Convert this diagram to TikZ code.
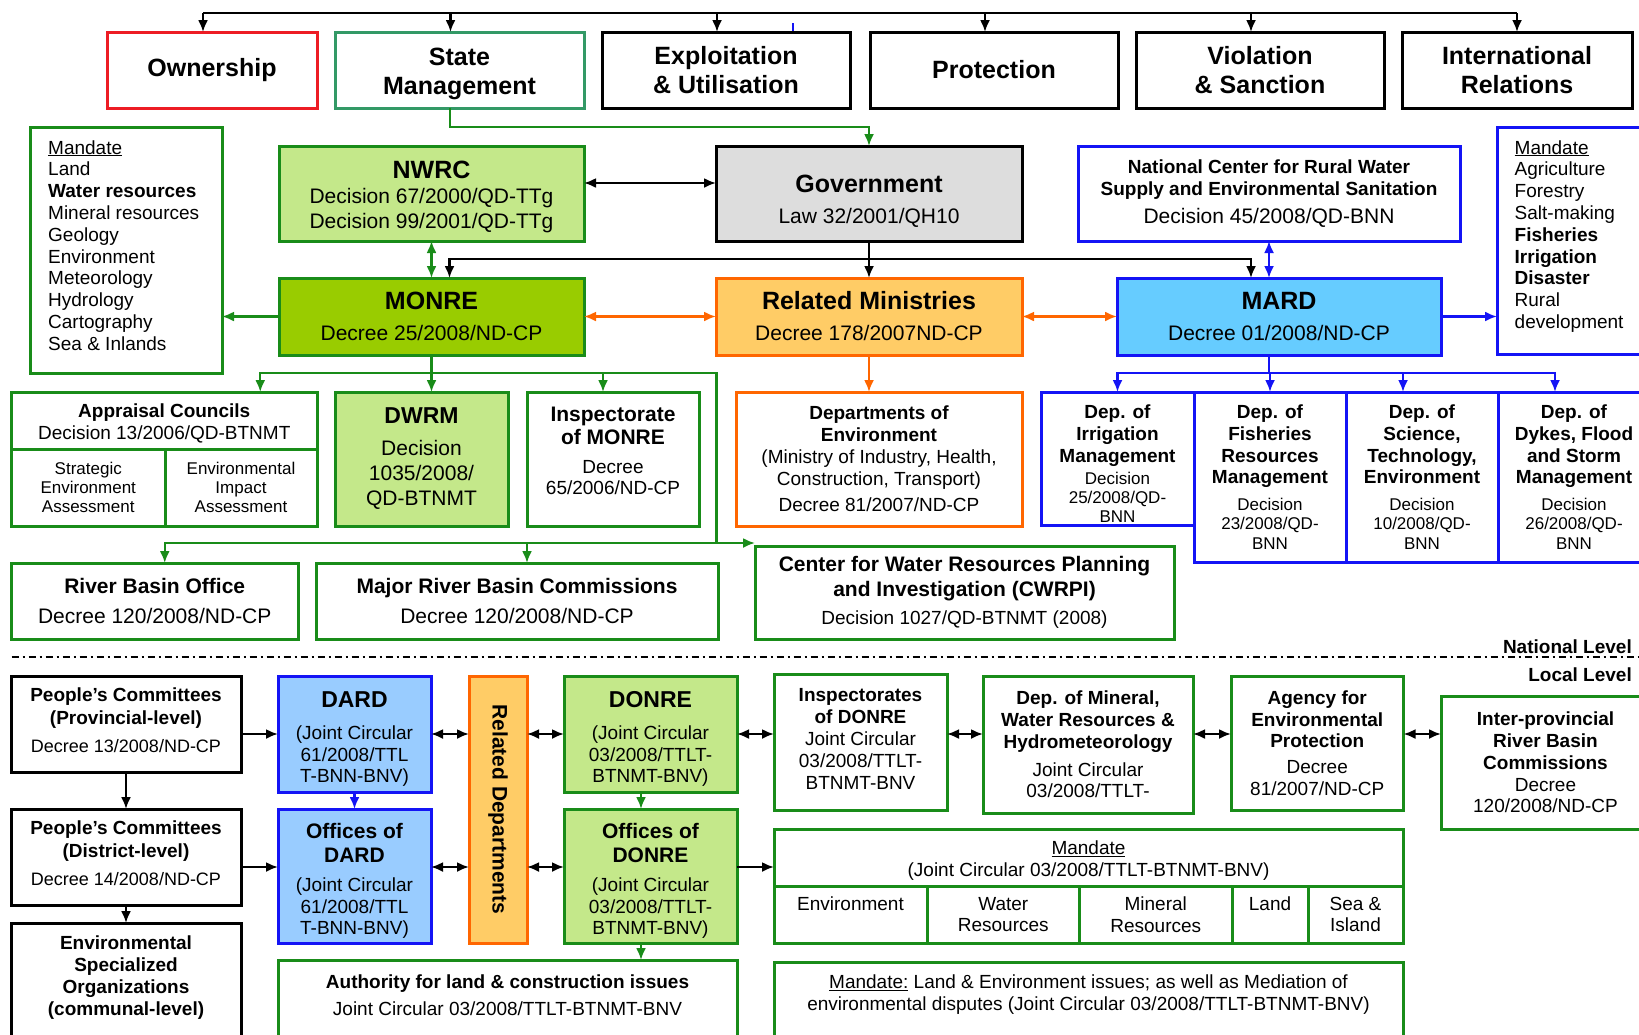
\documentclass[tikz,border=0pt]{standalone}
\usepackage{fontspec}
\setmainfont{Liberation Sans}
\usetikzlibrary{
  arrows.meta,
  positioning,
}
\definecolor{ownred}{RGB}{237, 28, 36}
\definecolor{smgreen}{RGB}{51, 153, 102}
\definecolor{mgreen}{RGB}{25, 140, 25}
\definecolor{lgreen}{RGB}{196, 232, 138}
\definecolor{monregreen}{RGB}{153, 204, 0}
\definecolor{morange}{RGB}{255, 102, 0}
\definecolor{lorange}{RGB}{255, 204, 102}
\definecolor{mblue}{RGB}{20, 20, 245}
\definecolor{mardblue}{RGB}{102, 204, 255}
\definecolor{dardblue}{RGB}{153, 204, 255}
\definecolor{govgray}{RGB}{221, 221, 221}

\newcommand{\fsTitle}{\fontsize{25}{29}\selectfont}
\newcommand{\fsHead}{\fontsize{23}{27}\selectfont}
\newcommand{\fsMain}{\fontsize{21}{25}\selectfont}
\newcommand{\fsSmall}{\fontsize{19}{21.8}\selectfont}
\newcommand{\fsTiny}{\fontsize{17}{19.3}\selectfont}
% struts to push a text block down (top) or up (bottom)
\newcommand{\padT}[1]{\rule{0pt}{#1}}
\newcommand{\padB}[1]{\rule[-#1]{0pt}{#1}}

\tikzstyle{box} = [
  draw,
  line width=3pt,
  align=center,
  inner sep=0pt,
  outer sep=0pt,
  font=\fsMain,
]
\tikzstyle{greenbox} = [box, draw=mgreen]
\tikzstyle{bluebox} = [box, draw=mblue]
\tikzstyle{orangebox} = [box, draw=morange]
\tikzstyle{topbox} = [box, minimum height=76pt, font=\fsTitle\bfseries]
\tikzstyle{arrow} = [
  -{Latex[length=12pt,width=10pt]},
  line width=2.2pt,
]
\tikzstyle{dblarrow} = [
  {Latex[length=12pt,width=10pt]}-{Latex[length=12pt,width=10pt]},
  line width=2.2pt,
]

\begin{document}
\begin{tikzpicture}[x=1pt, y=-1pt]

        \clip (0,0) rectangle (1639,1034);

        %% top row
        \node [topbox, draw=ownred, minimum width=210pt] (own) at (212,70) {Ownership};
        \node [topbox, draw=smgreen, minimum width=249pt] (sm) at (459.5,70) {\padT{26pt}State\\Management};
        \node [topbox, minimum width=248pt] (exp) at (726,70) {Exploitation\\\& Utilisation};
        \node [topbox, minimum width=248pt] (prot) at (994,70) {Protection};
        \node [topbox, minimum width=248pt] (viol) at (1260,70) {Violation\\\& Sanction};
        \node [topbox, minimum width=230pt] (intl) at (1517,70) {International\\Relations};

        \draw [line width=2.2pt] ([xshift=-9pt]own.north |- 0,13) -- (intl.north |- 0,13);
        \foreach \b/\s in {own/-9, sm/-9, exp/-9, prot/-9, viol/-9, intl/0} {
          \draw [arrow] ([xshift=\s pt]\b.north |- 0,13) -- ([xshift=\s pt]\b.north);
        }
        \draw [mblue, line width=1.5pt] (793,23) -- (793,31);

        %% national level
        \node [greenbox, minimum width=192pt, minimum height=246pt] (mandL) at (126,250) {};
        \foreach \t [count=\i from 0] in {\underline{Mandate}, Land, \textbf{Water resources},
          Mineral resources, Geology, Environment, Meteorology, Hydrology, Cartography, Sea \& Inlands} {
          \node [anchor=base west, font=\fsSmall, inner sep=0pt] (mL\i) at (48,{154+21.8*\i}) {\t};
        }

        \node [greenbox, fill=lgreen, minimum width=305pt, minimum height=95pt] (nwrc) at (431.5,193.5)
          {\padT{24pt}{\fsTitle\bfseries NWRC}\\Decision 67/2000/QD-TTg\\Decision 99/2001/QD-TTg};
        \node [box, fill=govgray, minimum width=306pt, minimum height=95pt] (gov) at (869,193.5)
          {\padT{33pt}{\fsTitle\bfseries Government}\\[6pt]Law 32/2001/QH10};
        \node [bluebox, font=\fsSmall, minimum width=382pt, minimum height=95pt] (ncr) at (1269,193.5)
          {\textbf{National Center for Rural Water}\\\textbf{Supply and Environmental Sanitation}\\[6pt]{\fsMain Decision 45/2008/QD-BNN}};

        \node [bluebox, minimum width=153pt, minimum height=227pt] (mandR) at (1573.5,240.5) {};
        \foreach \t [count=\i from 0] in {\underline{Mandate}, Agriculture, Forestry, Salt-making,
          \textbf{Fisheries}, \textbf{Irrigation}, \textbf{Disaster}, Rural, development} {
          \node [anchor=base west, font=\fsSmall, inner sep=0pt] (mR\i) at (1514.5,{154+21.8*\i}) {\t};
        }

        \node [greenbox, fill=monregreen, minimum width=305pt, minimum height=77pt] (monre) at (431.5,316.5)
          {{\fsTitle\bfseries MONRE}\\[6pt]Decree 25/2008/ND-CP};
        \node [orangebox, fill=lorange, minimum width=306pt, minimum height=77pt] (relmin) at (869,316.5)
          {{\fsTitle\bfseries Related Ministries}\\[6pt]Decree 178/2007ND-CP};
        \node [bluebox, fill=mardblue, minimum width=324pt, minimum height=77pt] (mard) at (1279,316.5)
          {{\fsTitle\bfseries MARD}\\[6pt]Decree 01/2008/ND-CP};

        \draw [arrow, mgreen] ([xshift=-9.5pt]sm.south) -- ++(0,19) -| (gov.north);
        \draw [dblarrow] ([yshift=10.5pt]nwrc.east) -- ([yshift=10.5pt]gov.west);
        \draw [dblarrow, mgreen] (nwrc.south) -- (monre.north);
        \coordinate (govj) at ([yshift=-18pt]gov.south);
        \draw [arrow] (gov.south) -- (relmin.north);
        \draw [arrow] (govj) -| ([xshift=18pt]monre.north);
        \draw [arrow] (govj) -| ([xshift=-28pt]mard.north);
        \draw [dblarrow, mblue] (ncr.south) -- (ncr.south |- mard.north);
        \draw [arrow, mgreen] (monre.west) -- (monre.west -| mandL.east);
        \draw [dblarrow, morange] (monre.east) -- (relmin.west);
        \draw [dblarrow, morange] (relmin.east) -- (mard.west);
        \draw [arrow, mblue] (mard.east) -- (mard.east -| mandR.west);

        %% MONRE units
        \node [greenbox, font=\fsSmall, minimum width=305.5pt, minimum height=57pt] (app) at (164.25,420.5)
          {\padT{20pt}\textbf{Appraisal Councils}\\Decision 13/2006/QD-BTNMT};
        \node [greenbox, font=\fsTiny, minimum width=153.5pt, minimum height=77pt] (sea) at (88.25,487.5)
          {Strategic\\Environment\\Assessment};
        \node [greenbox, font=\fsTiny, minimum width=152pt, minimum height=77pt] (eia) at (241,487.5)
          {Environmental\\Impact\\Assessment};
        \node [greenbox, fill=lgreen, minimum width=173pt, minimum height=134pt] (dwrm) at (421.5,459)
          {{\fsHead\bfseries DWRM}\\[7pt]Decision\\1035/2008/\\QD-BTNMT};
        \node [greenbox, minimum width=172pt, minimum height=134pt] (insp) at (613,459)
          {\textbf{Inspectorate}\\[-2pt]\textbf{of MONRE}\\[4pt]{\fsSmall Decree}\\[-4pt]{\fsSmall 65/2006/ND-CP}\padB{16pt}};
        \node [orangebox, font=\fsSmall, minimum width=286pt, minimum height=134pt] (deo) at (879,459)
          {\textbf{Departments of}\\\textbf{Environment}\\(Ministry of Industry, Health,\\Construction, Transport)\\[5pt]Decree 81/2007/ND-CP};

        \coordinate (monj) at ([yshift=-18pt]monre.south);
        \coordinate (rbj) at (716.5,543);
        \draw [arrow, mgreen] (monj) -| ([xshift=96pt]app.north);
        \draw [arrow, mgreen] (monre.south) -- (monre.south |- dwrm.north);
        \draw [arrow, mgreen] (monj) -| ([xshift=-10pt]insp.north);
        \draw [line width=2.2pt, mgreen] (monj) -| (rbj);
        \draw [arrow, morange] (relmin.south) -- (relmin.south |- deo.north);

        %% MARD units
        \node [bluebox, font=\fsSmall, minimum width=153pt, minimum height=133pt] (irr) at (1117.5,458.5)
          {\padT{24.5pt}\textbf{Dep. of}\\\textbf{Irrigation}\\\textbf{Management}\\{\fsTiny Decision}\\[-2.5pt]{\fsTiny 25/2008/QD-}\\[-2.5pt]{\fsTiny BNN}};
        \node [bluebox, font=\fsSmall, minimum width=152pt, minimum height=170pt] (fish) at (1270,477)
          {\textbf{Dep. of}\\\textbf{Fisheries}\\\textbf{Resources}\\\textbf{Management}\\[5pt]{\fsTiny Decision}\\[-2.5pt]{\fsTiny 23/2008/QD-}\\[-2.5pt]{\fsTiny BNN}};
        \node [bluebox, font=\fsSmall, minimum width=152pt, minimum height=170pt] (sci) at (1422,477)
          {\textbf{Dep. of}\\\textbf{Science,}\\\textbf{Technology,}\\\textbf{Environment}\\[5pt]{\fsTiny Decision}\\[-2.5pt]{\fsTiny 10/2008/QD-}\\[-2.5pt]{\fsTiny BNN}};
        \node [bluebox, font=\fsSmall, minimum width=152pt, minimum height=170pt] (dyk) at (1574,477)
          {\textbf{Dep. of}\\\textbf{Dykes, Flood}\\\textbf{and Storm}\\\textbf{Management}\\[5pt]{\fsTiny Decision}\\[-2.5pt]{\fsTiny 26/2008/QD-}\\[-2.5pt]{\fsTiny BNN}};

        \coordinate (mardj) at ([xshift=-10pt,yshift=-18pt]mard.south);
        \draw [line width=2.2pt, mblue] ([xshift=-10pt]mard.south) -- (mardj);
        \draw [arrow, mblue] (mardj) -| (irr.north);
        \draw [arrow, mblue] (mardj) -| (fish.north);
        \draw [arrow, mblue] (mardj) -| ([xshift=-19pt]sci.north);
        \draw [arrow, mblue] (mardj) -| ([xshift=-19pt]dyk.north);

        %% river basins
        \node [greenbox, minimum width=286.5pt, minimum height=76pt] (rbo) at (154.75,601)
          {\textbf{River Basin Office}\\[5pt]Decree 120/2008/ND-CP};
        \node [greenbox, minimum width=402pt, minimum height=76pt] (mrbc) at (517,601)
          {\textbf{Major River Basin Commissions}\\[5pt]Decree 120/2008/ND-CP};
        \node [greenbox, minimum width=419pt, minimum height=93pt] (cwrpi) at (964.5,592.5)
          {\textbf{Center for Water Resources Planning}\\\textbf{and Investigation (CWRPI)}\\[3pt]{\fsSmall Decision 1027/QD-BTNMT (2008)}};

        \draw [arrow, mgreen] (rbj) -| ([xshift=10pt]rbo.north);
        \draw [arrow, mgreen] (rbj) -| ([xshift=10pt]mrbc.north);
        \draw [arrow, mgreen] (rbj) -- (rbj -| cwrpi.west);

        %% level separator
        \draw [line width=2pt, dash pattern=on 7pt off 4pt on 2pt off 4pt] (11.5,657) -- (1639,657);
        \node [anchor=east, font=\fsSmall\bfseries, inner sep=0pt] (natl) at (1632,647) {National Level};
        \node [anchor=east, font=\fsSmall\bfseries, inner sep=0pt] (locl) at (1632,675) {Local Level};

        %% local level
        \node [box, font=\fsSmall, minimum width=230pt, minimum height=96pt] (pcp) at (126,724)
          {\textbf{People’s Committees}\\[1pt]\textbf{(Provincial-level)}\\[6pt]{\fontsize{18}{21}\selectfont Decree 13/2008/ND-CP}\padB{8pt}};
        \node [box, font=\fsSmall, minimum width=230pt, minimum height=96pt] (pcd) at (126,857)
          {\textbf{People’s Committees}\\[1pt]\textbf{(District-level)}\\[6pt]{\fontsize{18}{21}\selectfont Decree 14/2008/ND-CP}\padB{8pt}};
        \node [box, minimum width=230pt, minimum height=117pt] (eso) at (126,981.5) {};
        \node [below=13pt of eso.north, font=\fsSmall\bfseries, align=center, inner sep=0pt] (esotxt)
          {Environmental\\Specialized\\Organizations\\(communal-level)};

        \node [bluebox, fill=dardblue, font=\fsSmall, minimum width=153pt, minimum height=116pt] (dard) at (354.5,734)
          {\padT{26.5pt}{\fsHead\bfseries DARD}\\[10pt](Joint Circular\\61/2008/TTL\\T-BNN-BNV)};
        \node [bluebox, fill=dardblue, font=\fsSmall, minimum width=153pt, minimum height=134pt] (odard) at (354.5,876)
          {\padT{25.5pt}{\fsMain\bfseries Offices of}\\[2pt]{\fsMain\bfseries DARD}\\[7pt](Joint Circular\\61/2008/TTL\\T-BNN-BNV)};
        \node [orangebox, fill=lorange, minimum width=58pt, minimum height=267pt] (reldep) at (498,809.5) {};
        \node [rotate=-90, font=\fsMain\bfseries, inner sep=0pt] (reltxt) at (reldep.center) {Related Departments};
        \node [greenbox, fill=lgreen, font=\fsSmall, minimum width=173pt, minimum height=116pt] (donre) at (650.5,734)
          {\padT{26.5pt}{\fsHead\bfseries DONRE}\\[10pt](Joint Circular\\03/2008/TTLT-\\BTNMT-BNV)};
        \node [greenbox, fill=lgreen, font=\fsSmall, minimum width=173pt, minimum height=134pt] (odonre) at (650.5,876)
          {\padT{25.5pt}{\fsMain\bfseries Offices of}\\[2pt]{\fsMain\bfseries DONRE}\\[7pt](Joint Circular\\03/2008/TTLT-\\BTNMT-BNV)};
        \node [greenbox, minimum width=459pt, minimum height=80pt] (auth) at (507.5,1000) {};
        \node [below=15pt of auth.north, font=\fsSmall, align=center, inner sep=0pt] (authtxt)
          {\textbf{Authority for land \& construction issues}\\[5pt]Joint Circular 03/2008/TTLT-BTNMT-BNV};

        \draw [arrow] (pcp.south) -- (pcd.north);
        \draw [arrow] (pcd.south) -- (eso.north);
        \draw [arrow] (dard.west -| pcp.east) -- (dard.west);
        \draw [arrow] ([yshift=-10pt]pcd.east) -- ([yshift=-10pt]pcd.east -| odard.west);
        \draw [arrow, mblue] (dard.south) -- (odard.north);
        \draw [dblarrow] (dard.east) -- (dard.east -| reldep.west);
        \draw [dblarrow] ([yshift=9pt]odard.east) -- ([yshift=9pt]odard.east -| reldep.west);
        \draw [dblarrow] (donre.west -| reldep.east) -- (donre.west);
        \draw [dblarrow] ([yshift=9pt]odonre.west -| reldep.east) -- ([yshift=9pt]odonre.west);
        \draw [arrow, mgreen] ([xshift=-9.5pt]donre.south) -- ([xshift=-9.5pt]odonre.north);
        \draw [arrow, mgreen] ([xshift=-9.5pt]odonre.south) -- ([xshift=-9.5pt]odonre.south |- auth.north);

        \node [greenbox, font=\fsSmall, minimum width=173pt, minimum height=136pt] (inspd) at (860.5,742)
          {\textbf{Inspectorates}\\\textbf{of DONRE}\\Joint Circular\\03/2008/TTLT-\\BTNMT-BNV\padB{6pt}};
        \node [greenbox, font=\fsSmall, minimum width=210pt, minimum height=137pt] (mwr) at (1088,744.5)
          {\textbf{Dep. of Mineral,}\\\textbf{Water Resources \&}\\\textbf{Hydrometeorology}\\[6pt]Joint Circular\\03/2008/TTLT-};
        \node [greenbox, font=\fsSmall, minimum width=172.5pt, minimum height=134pt] (aep) at (1317.25,743)
          {\textbf{Agency for}\\\textbf{Environmental}\\\textbf{Protection}\\[4pt]Decree\\81/2007/ND-CP};
        \node [greenbox, font=\fsSmall, minimum width=209pt, minimum height=133pt] (irbc) at (1545.5,762.5)
          {\textbf{Inter-provincial}\\\textbf{River Basin}\\\textbf{Commissions}\\Decree\\120/2008/ND-CP};

        \draw [dblarrow] (donre.east) -- (donre.east -| inspd.west);
        \draw [dblarrow] (inspd.east |- donre.east) -- (mwr.west |- donre.east);
        \draw [dblarrow] (mwr.east |- donre.east) -- (aep.west |- donre.east);
        \draw [dblarrow] (aep.east |- donre.east) -- (irbc.west |- donre.east);

        %% mandate of DONRE
        \node [greenbox, font=\fsSmall, minimum width=629pt, minimum height=57pt] (mandH) at (1088.5,857.5)
          {\padT{20pt}\underline{Mandate}\\(Joint Circular 03/2008/TTLT-BTNMT-BNV)};
        \node [greenbox, font=\fsSmall, minimum width=153pt, minimum height=57pt] (mEnv) at (850.5,914.5) {Environment\\\mbox{}};
        \node [greenbox, font=\fsSmall, minimum width=152.5pt, minimum height=57pt] (mWat) at (1003.25,914.5) {Water\\Resources};
        \node [greenbox, font=\fsSmall, minimum width=152.5pt, minimum height=57pt] (mMin) at (1155.75,914.5) {Mineral\\Resources};
        \node [greenbox, font=\fsSmall, minimum width=76pt, minimum height=57pt] (mLand) at (1270,914.5) {Land\\\mbox{}};
        \node [greenbox, font=\fsSmall, minimum width=95pt, minimum height=57pt] (mSea) at (1355.5,914.5) {Sea \&\\Island};
        \draw [arrow] ([yshift=9pt]odonre.east) -- ([yshift=9pt]odonre.east -| mandH.west);

        \node [greenbox, minimum width=629pt, minimum height=78pt] (mandB) at (1088.5,1001) {};
        \node [below=13pt of mandB.north, font=\fsSmall, align=center, inner sep=0pt] (mandBtxt)
          {\underline{Mandate:} Land \& Environment issues; as well as Mediation of\\environmental disputes (Joint Circular 03/2008/TTLT-BTNMT-BNV)};
      \end{tikzpicture}
\end{document}
